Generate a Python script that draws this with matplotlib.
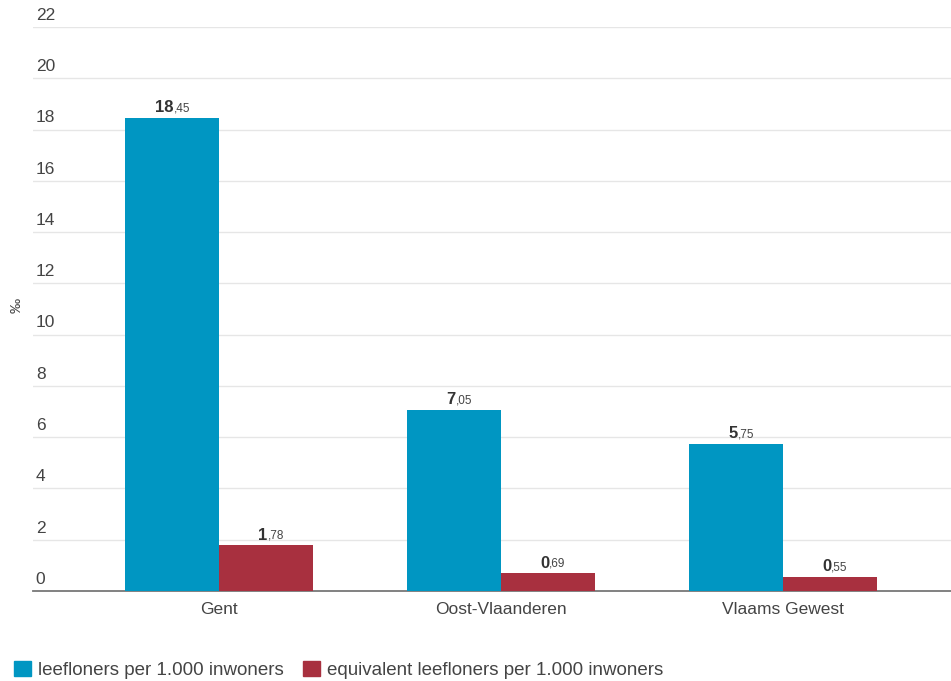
import numpy as np
import matplotlib
matplotlib.use('Agg')
from matplotlib import pyplot
from matplotlib.patches import Patch
import matplotlib.transforms as mtransforms

regions = ['Gent', 'Oost-Vlaanderen', 'Vlaams Gewest']
leefloners = [18.45, 7.05, 5.75]
equivalent = [1.78, 0.69, 0.55]
series_names = ['leefloners per 1.000 inwoners', 'equivalent leefloners per 1.000 inwoners']
y_ticks = [0, 2, 4, 6, 8, 10, 12, 14, 16, 18, 20, 22]

blue = '#0096c2'
red = '#a8303f'
text_col = '#444444'

pyplot.rcParams['font.family'] = ['Liberation Sans', 'DejaVu Sans']

fig = pyplot.figure(figsize=[9.51, 6.81], dpi=100)
ax = fig.add_axes([33/951, 90/681, 1 - 33/951, (591-27)/681])

x = np.arange(len(regions))
w = 0.333
ax.bar(x - w/2, leefloners, w, color=blue, zorder=3)
ax.bar(x + w/2, equivalent, w, color=red, zorder=3)

ax.set_xlim(-0.66, 2.596)
ax.set_ylim(0, 22)

# grid + y labels sitting on top of the grid lines
trans = mtransforms.blended_transform_factory(ax.transAxes, ax.transData)
for v in y_ticks:
	if v > 0:
		ax.axhline(v, color='#e6e6e6', lw=1, zorder=1)
	ax.annotate(str(v), (0, v), xycoords=trans, xytext=(2, 3), textcoords='offset points',
		ha='left', va='bottom', fontsize=12.5, color=text_col)
ax.set_yticks([])

for s in ['top', 'right', 'left']:
	ax.spines[s].set_visible(False)
ax.spines['bottom'].set_color('#777777')
ax.spines['bottom'].set_linewidth(1.3)
ax.set_xticks(x)
ax.set_xticklabels(regions, fontsize=12.5, color=text_col)
ax.tick_params(axis='x', length=0, pad=8)

fig.text(17/951, 1 - 305/681, '‰', rotation=90, ha='center', va='center', fontsize=11, color=text_col)

# value labels: bold integer part, small decimals
def label(xc, val):
	whole, dec = ('%.2f' % val).split('.')
	ax.annotate(whole, (xc, val), xytext=(1, 2), textcoords='offset points',
		ha='right', va='bottom', fontsize=12, fontweight='bold', color='#333333')
	ax.annotate(',' + dec, (xc, val), xytext=(1, 2.5), textcoords='offset points',
		ha='left', va='bottom', fontsize=8.5, color='#444444')

for i in range(len(regions)):
	label(x[i] - w/2, leefloners[i])
	label(x[i] + w/2, equivalent[i])

handles = [Patch(color=blue), Patch(color=red)]
fig.legend(handles, series_names, loc='center left', bbox_to_anchor=(14/951, 1 - 670/681), ncol=2,
	frameon=False, fontsize=13.5, handlelength=0.9, handleheight=0.9, handletextpad=0.4,
	columnspacing=1.0, borderpad=0, borderaxespad=0, labelcolor=text_col)

pyplot.savefig('out.png', dpi=100)
